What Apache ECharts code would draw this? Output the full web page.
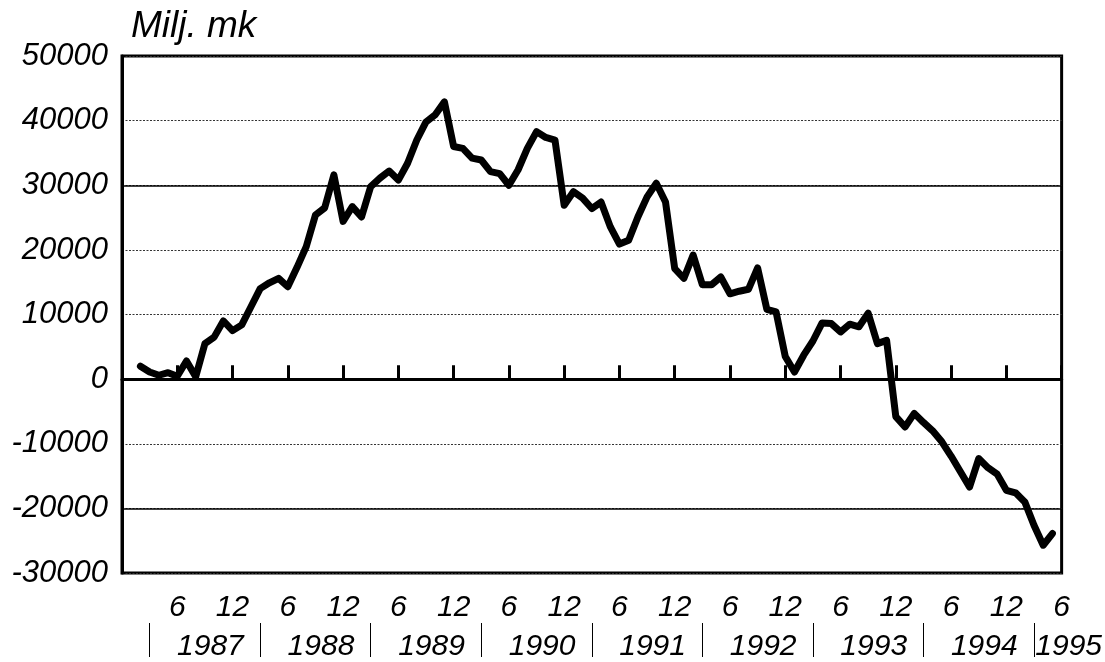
<!DOCTYPE html>
<html><head><meta charset="utf-8">
<script src="https://cdn.jsdelivr.net/npm/echarts@6/dist/echarts.min.js"></script>
<style>html,body{margin:0;padding:0;background:#fff}#c{width:1105px;height:662px}</style>
</head><body><div id="c"></div>
<script>
// Month index: 0 = Dec 1986, 1 = Jan 1987, ... 102 = Jun 1995
const firstMonth = 2; // first observation: Feb 1987
const values = [
  2000, 1100, 600, 1000, 450, 2800, 350, 5500, 6500, 9000, 7500,           // 1987 Feb-Dec
  8400, 11200, 14000, 14900, 15600, 14300, 17300, 20500, 25400, 26500, 31600, 24400, // 1988
  26700, 25100, 29800, 31100, 32200, 30800, 33400, 37000, 39800, 40900, 42900, 36000, // 1989
  35700, 34200, 33900, 32100, 31800, 30000, 32400, 35700, 38300, 37400, 37000, 26900, // 1990
  29000, 28000, 26400, 27400, 23600, 20900, 21500, 25100, 28200, 30300, 27400, 17100, // 1991
  15600, 19200, 14600, 14600, 15800, 13200, 13600, 13900, 17200, 10800, 10400, 3500,  // 1992
  1100, 3700, 5900, 8700, 8600, 7300, 8500, 8100, 10200, 5500, 6000, -5800,            // 1993
  -7400, -5300, -6700, -8000, -9700, -11900, -14300, -16700, -12300, -13700, -14700, -17200, // 1994
  -17600, -19000, -22600, -25700, -23900                                               // 1995 Jan-May
];
const years = ['1987','1988','1989','1990','1991','1992','1993','1994','1995'];
const monthTickLabels = ['6', '12'];
const yTicks = [-30000, -20000, -10000, 0, 10000, 20000, 30000, 40000, 50000];

const seriesData = values.map((v, i) => [firstMonth + i, v]);
const yearSeparators = years.map((y, i) => 3 + 12 * i);
const yearCenters = years.map((y, i) => i < years.length - 1 ? 9.6 + 12 * i : 102);

const font = 'Liberation Sans, Arial, Helvetica, sans-serif';
const chart = echarts.init(document.getElementById('c'), null, {renderer: 'canvas'});
chart.setOption({
  animation: false,
  backgroundColor: '#fff',
  title: {
    text: 'Milj. mk', left: 126, top: 3,
    textStyle: {fontFamily: font, fontSize: 37, fontStyle: 'italic', fontWeight: 'normal', color: '#000'}
  },
  grid: {left: 122, right: 42, top: 56, bottom: 89, show: true, borderColor: '#000', borderWidth: 3},
  xAxis: [{
    type: 'value', min: 0, max: 102, interval: 6,
    axisLine: {show: true, lineStyle: {color: '#000', width: 3}},
    axisTick: {show: true, inside: true, length: 14, lineStyle: {color: '#000', width: 3}},
    axisLabel: {
      show: true, margin: 20, showMinLabel: false, showMaxLabel: true,
      fontFamily: font, fontSize: 30, fontStyle: 'italic', color: '#000',
      formatter: v => v === 0 ? '' : (v % 12 === 0 ? monthTickLabels[1] : monthTickLabels[0])
    },
    splitLine: {show: false}
  }, {
    type: 'value', min: 0, max: 102, position: 'bottom', offset: 50,
    axisLine: {show: false},
    axisTick: {show: true, customValues: yearSeparators, length: 34, lineStyle: {color: '#000', width: 1}},
    axisLabel: {
      show: true, customValues: yearCenters, margin: 9, hideOverlap: false,
      fontFamily: font, fontSize: 30, fontStyle: 'italic', color: '#000',
      formatter: v => {
        if (v >= 102) return '{s|}' + years[years.length - 1];
        return years[Math.round((v - 9.6) / 12)];
      },
      rich: {s: {width: 14}}
    },
    splitLine: {show: false}
  }],
  yAxis: {
    type: 'value', min: yTicks[0], max: yTicks[yTicks.length - 1], interval: 10000,
    axisLine: {show: true, lineStyle: {color: '#000', width: 3}},
    axisTick: {show: false},
    axisLabel: {margin: 14, fontFamily: font, fontSize: 31, fontStyle: 'italic', color: '#000',
      formatter: v => String(v)},
    splitLine: {show: true, lineStyle: {color: '#333', width: 1, type: [2, 1.5]}}
  },
  series: [{
    type: 'line', xAxisIndex: 0, data: seriesData, showSymbol: false, symbol: 'none',
    lineStyle: {color: '#000', width: 7, join: 'round', cap: 'round'},
    z: 5,
    markLine: {
      silent: true, symbol: 'none', label: {show: false}, z: 3,
      data: [
        {yAxis: 0, lineStyle: {color: '#000', width: 3, type: 'solid'}},
        {yAxis: 30000, lineStyle: {color: '#000', width: 1.5, type: 'solid'}},
        {yAxis: -20000, lineStyle: {color: '#000', width: 1.5, type: 'solid'}}
      ]
    }
  }]
});
</script>
</body></html>
